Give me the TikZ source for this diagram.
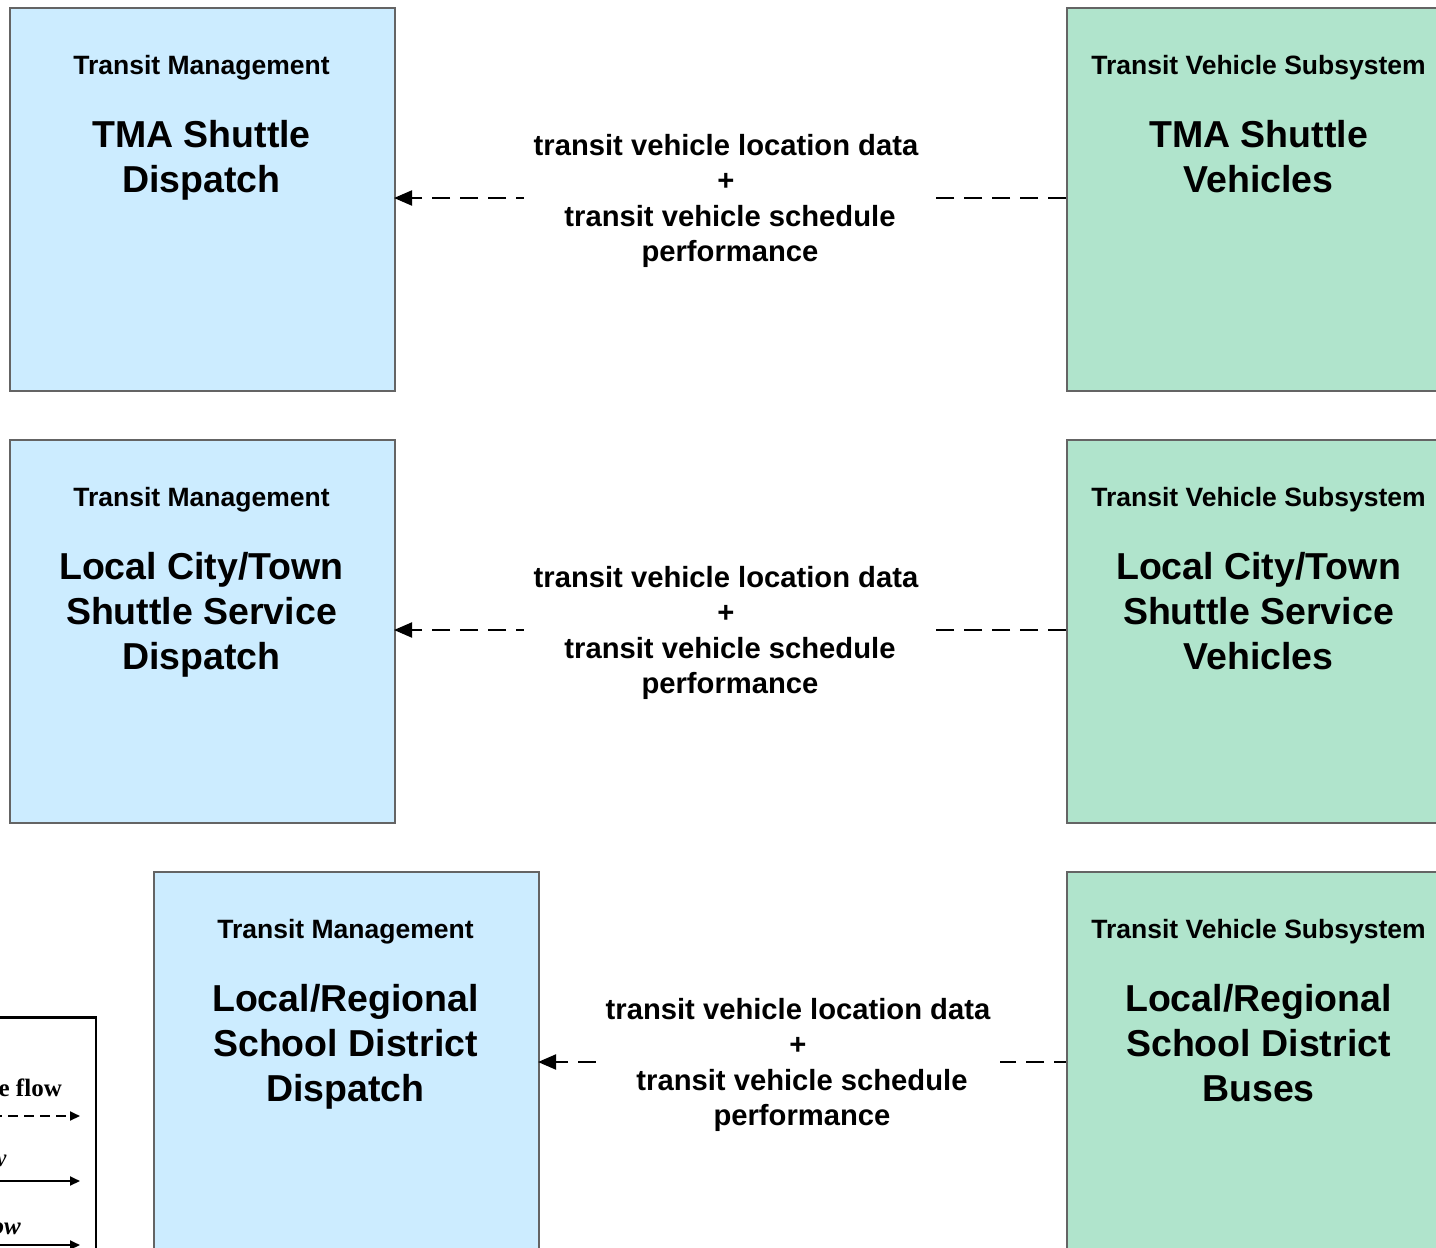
\documentclass[tikz,border=0pt]{standalone}
\usepackage{fontspec}
\setmainfont{Liberation Sans}
\newfontfamily\legendfont{Liberation Serif}
\usetikzlibrary{arrows.meta}
\definecolor{tmblue}{RGB}{204,236,255}
\definecolor{tvgreen}{RGB}{176,228,204}
\definecolor{boxgray}{RGB}{100,100,100}
\tikzset{
  sysbox/.style={draw=boxgray, line width=1.5pt, anchor=north west, minimum width=385pt, minimum height=383pt, inner sep=0pt},
  bluebox/.style={sysbox, fill=tmblue},
  greenbox/.style={sysbox, fill=tvgreen},
  classlabel/.style={anchor=base, inner sep=0pt, font=\fontsize{26.5}{30}\selectfont\bfseries},
  namelabel/.style={anchor=base, inner sep=0pt, align=center, font=\fontsize{37.5}{45}\selectfont\bfseries},
  flowlabel/.style={fill=white, inner xsep=10pt, inner ysep=2pt, align=center, font=\fontsize{29.2}{35.3}\selectfont\bfseries},
  flowline/.style={line width=2pt, dash pattern=on 18pt off 10pt, -{Triangle[length=18pt,width=15pt]}},
  legendbox/.style={draw=black, line width=2.5pt},
  legendtext/.style={anchor=base east, inner sep=0pt, font=\fontsize{24}{28}\selectfont\legendfont},
  legendarrow/.style={line width=2pt, -{Triangle[length=10pt,width=9pt]}},
}
\newcommand{\flowtext}{transit vehicle location data\\+\\\hspace*{8pt}transit vehicle schedule\\\hspace*{8pt}performance}
\begin{document}
\begin{tikzpicture}[x=1pt,y=-1pt]
\useasboundingbox (0,0) rectangle (1436,1248);
\fill[white] (0,0) rectangle (1436,1248);

% Row 1 (base anchor = baseline of the last line)
\node[bluebox] (tmaD) at (9,7) {};
\node[greenbox] (tmaV) at (1066,7) {};
\node[classlabel] (tmaDc) at (201.5,74) {Transit Management};
\node[namelabel] (tmaDn) at (201.5,192) {TMA Shuttle\\Dispatch};
\node[classlabel] (tmaVc) at (1258.5,74) {Transit Vehicle Subsystem};
\node[namelabel] (tmaVn) at (1258.5,192) {TMA Shuttle\\Vehicles};

% Row 2
\node[bluebox] (cityD) at (9,439) {};
\node[greenbox] (cityV) at (1066,439) {};
\node[classlabel] (cityDc) at (201.5,506) {Transit Management};
\node[namelabel] (cityDn) at (201.5,669) {Local City/Town\\Shuttle Service\\Dispatch};
\node[classlabel] (cityVc) at (1258.5,506) {Transit Vehicle Subsystem};
\node[namelabel] (cityVn) at (1258.5,669) {Local City/Town\\Shuttle Service\\Vehicles};

% Row 3
\node[bluebox] (schD) at (153,871) {};
\node[greenbox] (schV) at (1066,871) {};
\node[classlabel] (schDc) at (345.5,938) {Transit Management};
\node[namelabel] (schDn) at (345.5,1101) {Local/Regional\\School District\\Dispatch};
\node[classlabel] (schVc) at (1258.5,938) {Transit Vehicle Subsystem};
\node[namelabel] (schVn) at (1258.5,1101) {Local/Regional\\School District\\Buses};

% Flows
\coordinate (f1s) at (1066,198);
\coordinate (f1e) at (394,198);
\draw[flowline] (f1s) -- (f1e);
\node[flowlabel] (f1l) at (726,201) {\flowtext};

\coordinate (f2s) at (1066,630);
\coordinate (f2e) at (394,630);
\draw[flowline] (f2s) -- (f2e);
\node[flowlabel] (f2l) at (726,633) {\flowtext};

\coordinate (f3s) at (1066,1062);
\coordinate (f3e) at (538,1062);
\draw[flowline, dash phase=6pt] (f3s) -- (f3e);
\node[flowlabel] (f3l) at (798,1065) {\flowtext};

% Legend (partly outside the page)
\node[legendbox, anchor=north east, minimum width=400pt, minimum height=400pt] (legend) at (97,1016) {};
\node[legendtext, font=\fontsize{25}{28}\selectfont\legendfont\bfseries] (lg1) at (62,1096) {e flow};
\coordinate (lg1a) at (-40,1116);
\coordinate (lg1b) at (80,1116);
\draw[legendarrow, dash pattern=on 10pt off 6pt] (lg1a) -- (lg1b);
\node[legendtext, font=\fontsize{25}{28}\selectfont\legendfont\itshape] (lg2) at (7,1166) {flow};
\coordinate (lg2a) at (-40,1181);
\coordinate (lg2b) at (80,1181);
\draw[legendarrow] (lg2a) -- (lg2b);
\node[legendtext, font=\fontsize{25}{28}\selectfont\legendfont\bfseries\itshape] (lg3) at (21,1234) {flow};
\coordinate (lg3a) at (-40,1245);
\coordinate (lg3b) at (80,1245);
\draw[legendarrow] (lg3a) -- (lg3b);
\end{tikzpicture}
\end{document}
